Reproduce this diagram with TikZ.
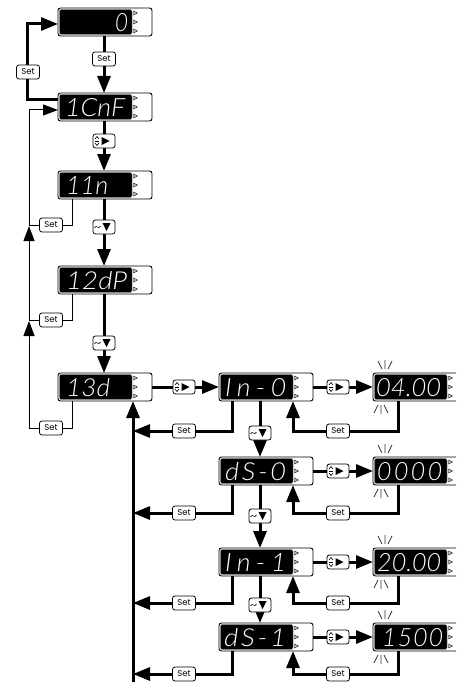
\documentclass[tikz,border=0pt]{standalone}
\usepackage{fontspec}
\usepackage{graphicx}
\usetikzlibrary{arrows.meta,calc}
\IfFontExistsTF{Lato Light Italic}
  {\newfontfamily\segfont{Lato Light Italic}}
  {\newfontfamily\segfont{Liberation Sans Italic}}
\newfontfamily\setfont{Poppins}
\tikzset{
  thickln/.style={line width=3pt},
  thinln/.style={line width=1pt},
  bigarrow/.style={-{Triangle[length=17pt,width=13pt]}},
  thinarrow/.style={-{Triangle[length=15pt,width=11pt]}},
  dispouter/.style={draw=black, line width=0.9pt, fill=white, rounded corners=2.5pt,
    minimum width=94pt, minimum height=28pt, inner sep=0pt, outer sep=0pt},
  setlbl/.style={draw=black, line width=0.8pt, fill=white, rounded corners=2.5pt,
    minimum width=23pt, minimum height=14pt, inner sep=0pt,
    font=\setfont\fontsize{8.5}{8.5}\selectfont},
  btn/.style={draw=black, line width=0.8pt, fill=white, rounded corners=2.5pt,
    minimum width=22pt, minimum height=14pt, inner sep=0pt},
  segtxt/.style={text=white, inner sep=0pt, font=\segfont},
  blink/.style={line width=0.7pt, black!80},
}
% #1 name, #2 x0, #3 y0, #4 text left x, #5 letterspace, #6 text width, #7 text
\newcommand\disp[7]{%
  \node[dispouter, anchor=north west] (#1) at (#2,#3) {};
  \fill[black, rounded corners=2pt] ($(#1.north west)+(1.4,1.4)$) rectangle ($(#1.south west)+(74,-1.4)$);
  \draw[gray!70, line width=0.5pt, rounded corners=2pt] ($(#1.north west)+(1.4,1.4)$) rectangle ($(#1.south west)+(74,-1.4)$);
  \foreach \k in {5,14,23}
    \draw[line width=0.4pt, fill=gray!50] ($(#1.north west)+(75.5,\k-2)$) -- ++(0,4) -- ++(4,-2) -- cycle;
  \node[segtxt, anchor=north west] (#1t) at (#4,#3+5) {\resizebox{#6pt}{18pt}{\addfontfeature{LetterSpace=#5}#7}};
}
\newcommand\udbtn[3]{%
  \node[btn] (#1) at (#2,#3) {};
  \draw[line width=0.6pt] ($(#1.center)+(-9,-2)$) -- ++(2,-2.5) -- ++(2,2.5);
  \draw[line width=0.6pt] ($(#1.center)+(-9,2)$) -- ++(2,2.5) -- ++(2,-2.5);
  \draw[line width=0.5pt] ($(#1.center)+(-9,0)$) -- ++(4,0);
  \fill ($(#1.center)+(-2.5,-4)$) -- ++(0,8) -- ++(8,-4) -- cycle;
}
\newcommand\tlbtn[3]{%
  \node[btn] (#1) at (#2,#3) {};
  \draw[line width=0.6pt] ($(#1.center)+(-9.5,0.8)$) .. controls ($(#1.center)+(-7.5,-3)$) and ($(#1.center)+(-5.5,3)$) .. ($(#1.center)+(-3.5,-0.8)$);
  \fill ($(#1.center)+(-1.5,-4)$) -- ++(8,0) -- ++(-4,8) -- cycle;
}
% #1 box x0, #2 top, #3 bottom
\newcommand\blinkmarks[3]{%
  \draw[blink] (#1+5,#2-12) -- (#1+9,#2-4) (#1+12,#2-13) -- (#1+12,#2-4) (#1+19,#2-12) -- (#1+15,#2-4);
  \draw[blink] (#1+5,#3+4) -- (#1+1,#3+12) (#1+8,#3+4) -- (#1+8,#3+13) (#1+11,#3+4) -- (#1+15,#3+12);
}
\begin{document}
\begin{tikzpicture}[x=1pt,y=-1pt]
\useasboundingbox (0,0) rectangle (456,682);
\clip (0,0) rectangle (456,682);
\fill[white] (0,0) rectangle (456,682);

% displays
\disp{B0}{58}{8}{115}{0}{13}{0}
\disp{B1}{58}{93}{65}{0}{60}{1CnF}
\disp{B2}{58}{171}{66}{0}{42}{11n}
\disp{B3}{58}{266}{66}{0}{61}{12dP}
\disp{B4}{58}{373}{66}{0}{44}{13d}
\disp{R1}{219}{373}{225}{20}{61}{In-0}
\disp{R2}{219}{457}{225}{10}{61}{dS-0}
\disp{R3}{219}{548}{225}{20}{61}{In-1}
\disp{R4}{219}{623}{224}{10}{62}{dS-1}
\disp{V1}{373}{373}{376}{0}{65}{04.00}
\disp{V2}{373}{457}{377}{10}{65}{0000}
\disp{V3}{373}{548}{377}{0}{64}{20.00}
\disp{V4}{373}{623}{382}{5}{61}{1500}

\blinkmarks{373}{373}{401}
\blinkmarks{373}{457}{485}
\blinkmarks{373}{548}{576}
\blinkmarks{373}{623}{651}

% main column
\draw[thickln,bigarrow] (B0.south -| 104,0) -- (B1.north -| 104,0);
\draw[thickln,bigarrow] (B1.west |- 0,100) -- (27,100) -- (27,24) -- (B0.west |- 0,24);
\draw[thickln,bigarrow] (B1.south -| 104,0) -- (B2.north -| 104,0);
\draw[thickln,bigarrow] (B2.south -| 104,0) -- (B3.north -| 104,0);
\draw[thickln,bigarrow] (B3.south -| 104,0) -- (B4.north -| 104,0);

% thin return path on the left
\draw[thinln,thinarrow] (B4.south -| 72,0) -- (72,428) -- (29,428) -- (29,321);
\draw[thinln,thinarrow] (29,321) -- (29,226);
\draw[thinln,thinarrow] (29,226) -- (29,110) -- (B1.west |- 0,110);
\draw[thinln] (B2.south -| 72,0) -- (72,225) -- (29,225);
\draw[thinln] (B3.south -| 72,0) -- (72,320) -- (29,320);

% rows
\draw[thickln,bigarrow] (B4.east) -- (R1.west);
\draw[thickln,bigarrow] (R1.east) -- (V1.west);
\draw[thickln,bigarrow] (R2.east) -- (V2.west);
\draw[thickln,bigarrow] (R3.east) -- (V3.west);
\draw[thickln,bigarrow] (R4.east) -- (V4.west);

% value returns
\draw[thickln,bigarrow] (V1.south -| 398,0) -- (398,431) -- (293,431) -- (R1.south -| 293,0);
\draw[thickln,bigarrow] (V2.south -| 398,0) -- (398,513) -- (293,513) -- (R2.south -| 293,0);
\draw[thickln,bigarrow] (V3.south -| 398,0) -- (398,603) -- (293,603) -- (R3.south -| 293,0);
\draw[thickln,bigarrow] (V4.south -| 398,0) -- (398,674) -- (293,674) -- (R4.south -| 293,0);

% left returns
\draw[thickln,bigarrow] (R1.south -| 232,0) -- (232,431) -- (133,431);
\draw[thickln,bigarrow] (R2.south -| 232,0) -- (232,513) -- (133,513);
\draw[thickln,bigarrow] (R3.south -| 232,0) -- (232,603) -- (133,603);
\draw[thickln,bigarrow] (R4.south -| 232,0) -- (232,674) -- (133,674);
\draw[thickln,bigarrow] (133,682) -- (B4.south -| 133,0);

% downward in right column
\draw[thickln,bigarrow] (R1.south -| 260,0) -- (R2.north -| 260,0);
\draw[thickln,bigarrow] (R2.south -| 260,0) -- (R3.north -| 260,0);
\draw[thickln,bigarrow] (R3.south -| 260,0) -- (R4.north -| 260,0);

% labels
\node[setlbl] (s0) at (104,59) {Set};
\node[setlbl] (s1) at (28,72) {Set};
\node[setlbl] (s2) at (51,225) {Set};
\node[setlbl] (s3) at (51,320) {Set};
\node[setlbl] (s4) at (51,428) {Set};
\foreach \yy/\nm in {431/a,513/b,603/c,674/d}{
  \node[setlbl] (sl\nm) at (184,\yy) {Set};
  \node[setlbl] (sr\nm) at (338,\yy) {Set};
}

% buttons
\udbtn{k1}{104}{141}
\tlbtn{k2}{104}{227}
\tlbtn{k3}{104}{343}
\udbtn{k4}{184}{387}
\udbtn{k5}{338}{387}
\udbtn{k6}{338}{471}
\udbtn{k7}{338}{562}
\udbtn{k8}{338}{637}
\tlbtn{k9}{260}{433}
\tlbtn{k10}{260}{516}
\tlbtn{k11}{260}{605}
\end{tikzpicture}
\end{document}
